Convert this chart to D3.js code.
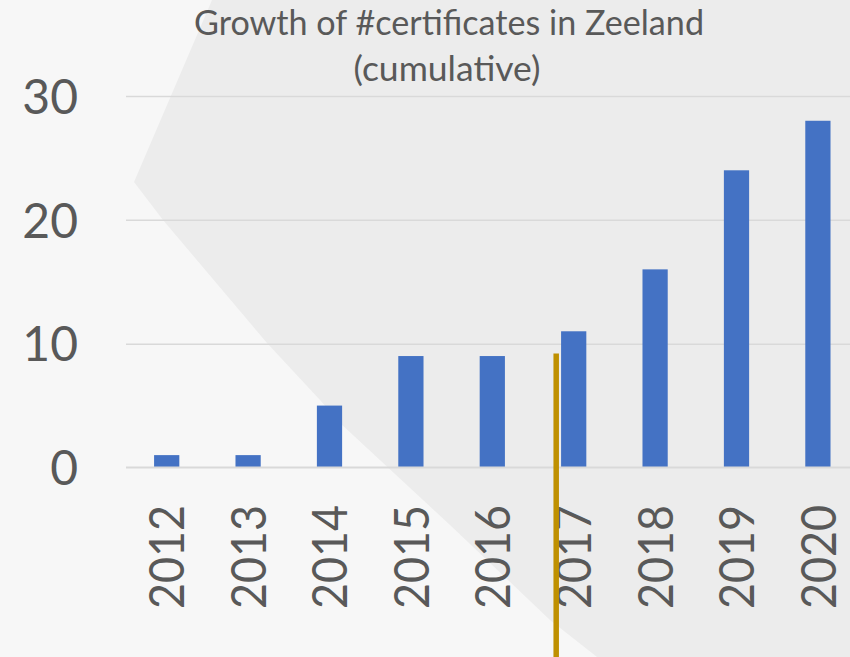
<!DOCTYPE html>
<html>
<head>
<meta charset="utf-8">
<script src="https://cdn.jsdelivr.net/npm/d3@7"></script>
<style>
  html, body { margin: 0; padding: 0; background: #f7f7f7; overflow: hidden; }
  svg { display: block; }
</style>
</head>
<body>
<svg id="chart" width="850" height="657"></svg>
<script>
// ---- data ----
const years = ["2012", "2013", "2014", "2015", "2016", "2017", "2018", "2019", "2020"];
const certificates = [1, 1, 5, 9, 9, 11, 16, 24, 28];
const yTicks = [0, 10, 20, 30];
const titleLines = ["Growth of #certificates in Zeeland", "(cumulative)"];
// annotation: vertical marker line just before the 2017 bar
const markerYear = "2017";
const markerValue = 9.2;

// ---- layout ----
const W = 850, H = 657;
const plotLeft = 126, step = 81.4;
const y0 = 467.5, y30 = 96;
const textColor = "#595959";
const font = "Lato, 'Open Sans', sans-serif";

const svg = d3.select("#chart");

// background decoration
const bgShape = [[212,0],[134,182],[163,220],[267,343],[320,400],[340,423],[450,525],[550,620],[597,657],[850,657],[850,0]];
svg.append("rect").attr("width", W).attr("height", H).attr("fill", "#f7f7f7");
svg.append("path")
  .attr("d", d3.line().curve(d3.curveLinear)(bgShape) + "Z")
  .attr("fill", "#ececec");

const x = d3.scaleBand()
  .domain(years)
  .range([plotLeft, plotLeft + step * years.length])
  .paddingInner(0.69)
  .paddingOuter(0.345);

const y = d3.scaleLinear().domain([0, 30]).range([y0, y30]);

// y axis with gridlines
const yAxis = svg.append("g")
  .attr("transform", `translate(${plotLeft},0)`)
  .call(d3.axisLeft(y).tickValues(yTicks).tickSize(-(W - plotLeft)).tickPadding(48).tickFormat(d3.format("d")));
yAxis.select(".domain").remove();
yAxis.selectAll(".tick line")
  .attr("stroke", "#d9d9d9")
  .attr("stroke-width", d => d === 0 ? 0 : 1.5);
yAxis.selectAll(".tick text")
  .attr("fill", textColor)
  .style("font-family", font)
  .style("font-size", "48px")
  .attr("dy", "0.36em");

// bars
svg.append("g").selectAll("rect")
  .data(years.map((yr, i) => ({ yr, v: certificates[i] })))
  .join("rect")
  .attr("x", d => x(d.yr))
  .attr("width", x.bandwidth())
  .attr("y", d => y(d.v))
  .attr("height", d => y(0) - y(d.v))
  .attr("fill", "#4472c4");

// x axis
const xAxis = svg.append("g")
  .attr("transform", `translate(0,${y0})`)
  .call(d3.axisBottom(x).tickSize(0));
xAxis.select(".domain")
  .attr("stroke", "#d9d9d9")
  .attr("stroke-width", 2)
  .attr("d", `M${plotLeft},0H${W}`);
xAxis.selectAll(".tick text")
  .attr("fill", textColor)
  .style("font-family", font)
  .style("font-size", "49px")
  .attr("textLength", 104)
  .attr("lengthAdjust", "spacingAndGlyphs")
  .attr("text-anchor", "end")
  .attr("transform", "rotate(-90)")
  .attr("x", -37.5)
  .attr("y", 0)
  .attr("dy", "0.36em");

// marker line
const mx = x(markerYear) - x.step() * 0.06;
svg.append("line")
  .attr("x1", mx).attr("x2", mx)
  .attr("y1", y(markerValue)).attr("y2", H)
  .attr("stroke", "#bf9000")
  .attr("stroke-width", 5.5);

// title
const title = svg.append("g")
  .attr("fill", textColor)
  .style("font-family", font)
  .style("font-size", "34px");
title.append("text")
  .attr("x", 449).attr("y", 35)
  .attr("text-anchor", "middle")
  .attr("textLength", 510)
  .attr("lengthAdjust", "spacingAndGlyphs")
  .text(titleLines[0]);
title.append("text")
  .attr("x", 447).attr("y", 81)
  .attr("text-anchor", "middle")
  .attr("textLength", 187)
  .attr("lengthAdjust", "spacingAndGlyphs")
  .text(titleLines[1]);
</script>
</body>
</html>
